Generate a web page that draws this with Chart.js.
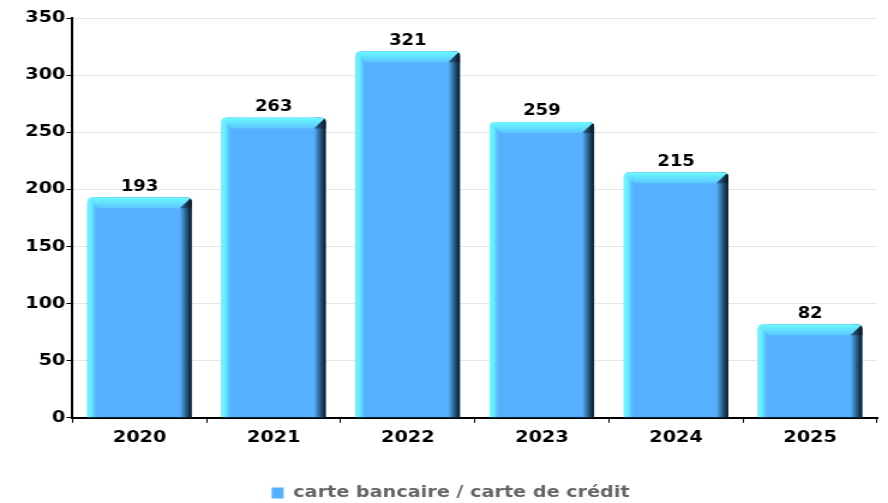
<!DOCTYPE html>
<html>
<head>
<meta charset="utf-8">
<script src="https://cdn.jsdelivr.net/npm/chart.js@4/dist/chart.umd.min.js"></script>
<style>
    html, body { margin: 0; padding: 0; background: #fff; overflow: hidden; }
    /* chart is drawn narrow, then widened to fill the page */
    #wrap { width: 740px; height: 503px; transform: scaleX(1.2); transform-origin: 0 0; }
</style>
</head>
<body>
<div id="wrap"><canvas id="chart-cartes" width="740" height="503"></canvas></div>
<script>
var years = ['2020', '2021', '2022', '2023', '2024', '2025'];
var counts = [193, 263, 321, 259, 215, 82];
var seriesLabel = 'carte bancaire / carte de crédit';
var yTicks = [0, 50, 100, 150, 200, 250, 300, 350];

var barBlue = '#55b1ff';

// shaded "3d" look on top of each plain bar
var bevelBars = {
    id: 'bevelBars',
    afterDatasetDraw: function(chart, args) {
        var ctx = chart.ctx;
        args.meta.data.forEach(function(bar) {
            var p = bar.getProps(['x', 'y', 'width', 'base'], true);
            var l = p.x - p.width / 2, r = p.x + p.width / 2;
            var t = p.y, b = p.base;
            var rad = 5, side = 9, top = 11;
            ctx.save();
            ctx.beginPath();
            ctx.moveTo(l, b);
            ctx.lineTo(l, t + rad);
            ctx.quadraticCurveTo(l, t, l + rad, t);
            ctx.lineTo(r - rad, t);
            ctx.quadraticCurveTo(r, t, r, t + rad);
            ctx.lineTo(r, b);
            ctx.closePath();
            ctx.clip();

            // left highlight
            var g = ctx.createLinearGradient(l, 0, l + side, 0);
            g.addColorStop(0, '#6cfcff');
            g.addColorStop(0.45, '#63e6ff');
            g.addColorStop(1, 'rgba(85,177,255,0)');
            ctx.fillStyle = g;
            ctx.fillRect(l, t, side, b - t);

            // right shadow
            g = ctx.createLinearGradient(r - side - 1, 0, r, 0);
            g.addColorStop(0, barBlue);
            g.addColorStop(0.5, '#2a5f8c');
            g.addColorStop(1, '#0a131c');
            ctx.fillStyle = g;
            ctx.fillRect(r - side - 1, t, side + 1, b - t);

            // top bevel
            g = ctx.createLinearGradient(0, t, 0, t + top);
            g.addColorStop(0, '#6cfbff');
            g.addColorStop(1, '#5bc6ff');
            ctx.fillStyle = g;
            ctx.beginPath();
            ctx.moveTo(l, t);
            ctx.lineTo(r, t);
            ctx.lineTo(r - side - 1, t + top);
            ctx.lineTo(l + side, t + top);
            ctx.closePath();
            ctx.fill();

            // top right corner
            g = ctx.createLinearGradient(r - side - 1, 0, r, 0);
            g.addColorStop(0, '#2f6c9c');
            g.addColorStop(1, '#0a131c');
            ctx.fillStyle = g;
            ctx.beginPath();
            ctx.moveTo(r, t);
            ctx.lineTo(r, t + top);
            ctx.lineTo(r - side - 1, t + top);
            ctx.closePath();
            ctx.fill();
            ctx.restore();
        });
    }
};

// value written above each bar
var barValues = {
    id: 'barValues',
    afterDatasetsDraw: function(chart) {
        var ctx = chart.ctx;
        var meta = chart.getDatasetMeta(0);
        ctx.save();
        ctx.font = 'bold 15px "DejaVu Sans"';
        ctx.fillStyle = '#000';
        ctx.textAlign = 'center';
        ctx.textBaseline = 'bottom';
        meta.data.forEach(function(bar, i) {
            ctx.fillText(counts[i], bar.x, bar.y - 3);
        });
        ctx.restore();
    }
};

var $chart = document.getElementById('chart-cartes');
var cartesChart = new Chart($chart, {
    type: 'bar',
    data: {
        labels: years,
        datasets: [{
            label: seriesLabel,
            data: counts,
            backgroundColor: barBlue,
            borderWidth: 0,
            borderRadius: { topLeft: 5, topRight: 5 },
            borderSkipped: 'bottom',
            barPercentage: 0.78,
            categoryPercentage: 1
        }]
    },
    options: {
        responsive: false,
        animation: false,
        layout: { padding: { top: 18, right: 9, left: 20, bottom: -8 } },
        plugins: {
            legend: {
                position: 'bottom',
                labels: {
                    boxWidth: 10,
                    boxHeight: 11,
                    padding: 33,
                    color: '#666',
                    font: { family: 'DejaVu Sans', size: 16, weight: 'bold' }
                }
            },
            tooltip: { enabled: false }
        },
        scales: {
            x: {
                grid: {
                    display: true,
                    drawOnChartArea: false,
                    offset: true,
                    color: '#000',
                    tickLength: 5,
                    lineWidth: 1
                },
                border: { color: '#000', width: 2 },
                ticks: {
                    color: '#000',
                    padding: 5,
                    font: { family: 'DejaVu Sans', size: 16, weight: 'bold' }
                }
            },
            y: {
                min: 0,
                max: 350,
                afterBuildTicks: function(axis) {
                    axis.ticks = yTicks.map(function(v) { return { value: v }; });
                },
                grid: {
                    color: '#e6e6e6',
                    tickColor: '#000',
                    tickLength: 5
                },
                border: { color: '#000', width: 2 },
                ticks: {
                    color: '#000',
                    padding: 1,
                    font: { family: 'DejaVu Sans', size: 16, weight: 'bold' }
                }
            }
        }
    },
    plugins: [bevelBars, barValues]
});
</script>
</body>
</html>
